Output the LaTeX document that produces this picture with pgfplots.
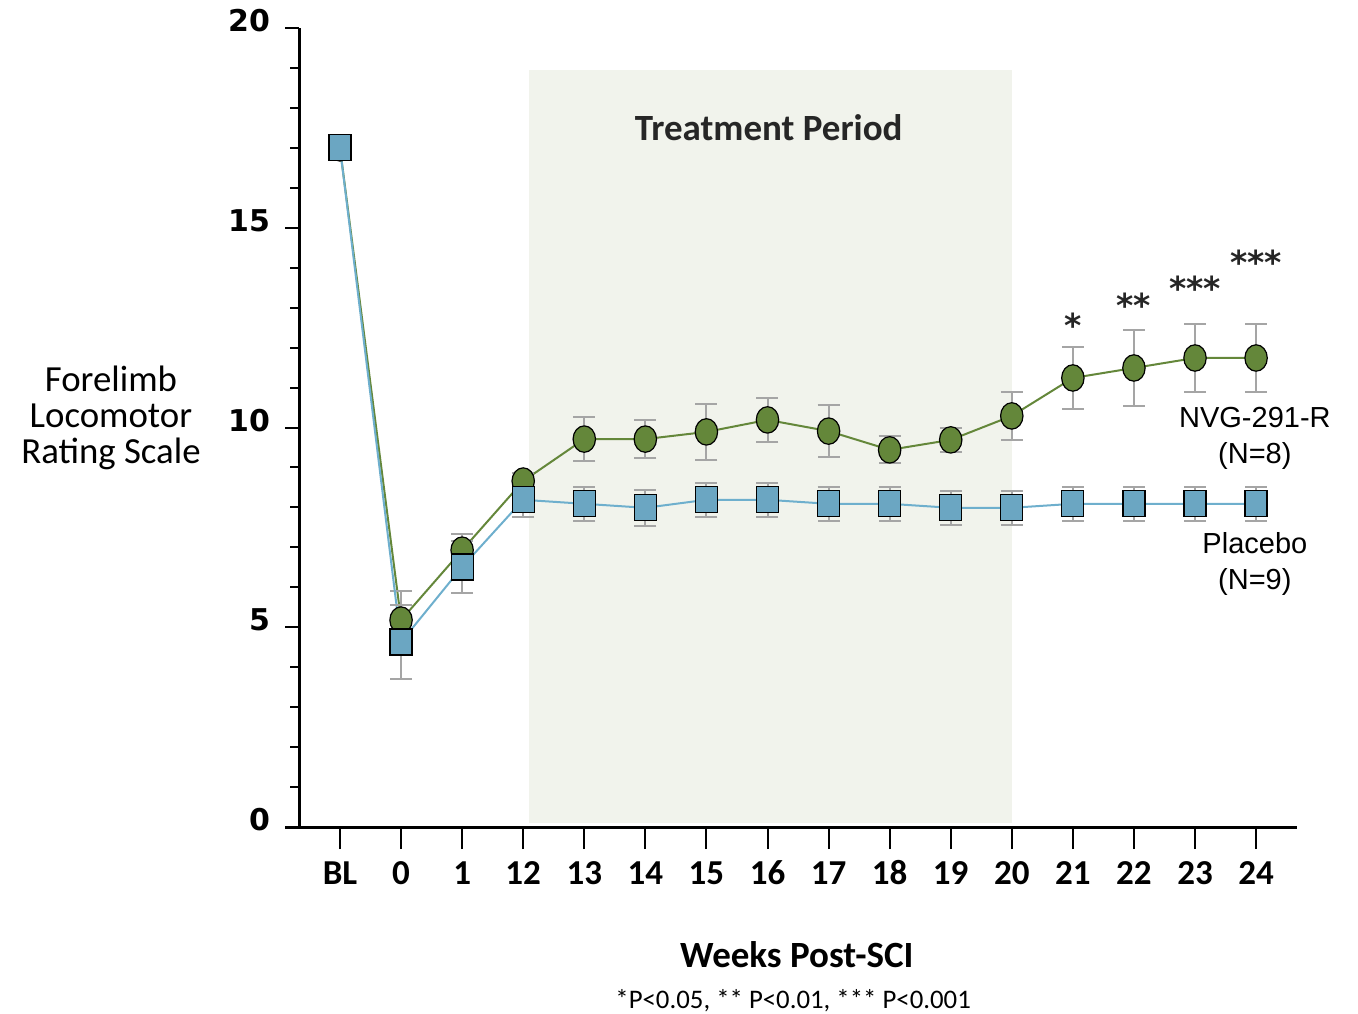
\documentclass[border=0pt]{standalone}
\usepackage{fontspec}
\setmainfont{Carlito}
\newfontfamily\arialf{Liberation Sans}
\newfontfamily\dejaf{DejaVu Sans}
\usepackage{pgfplots}
\usepackage{pgfplotstable}
\pgfplotsset{compat=1.18}

\definecolor{nvg}{RGB}{100,135,58}
\definecolor{plc}{RGB}{107,166,194}
\definecolor{plcline}{RGB}{110,175,205}
\definecolor{errc}{RGB}{165,165,165}
\definecolor{tpshade}{RGB}{241,243,236}

% x = category index (BL,0,1,12,...,24), y = mean, e = error
\pgfplotstableread{
x y e
0 17.00 0
1 5.18 0.72
2 6.93 0.40
3 8.66 0.20
4 9.71 0.55
5 9.71 0.47
6 9.89 0.70
7 10.19 0.55
8 9.91 0.66
9 9.44 0.34
10 9.69 0.30
11 10.29 0.60
12 11.24 0.78
13 11.49 0.94
14 11.74 0.86
15 11.74 0.86
}\nvgdata

\pgfplotstableread{
x y e
0 17.00 0
1 4.63 0.93
2 6.51 0.65
3 8.19 0.43
4 8.09 0.43
5 7.99 0.45
6 8.19 0.43
7 8.19 0.43
8 8.09 0.43
9 8.09 0.43
10 7.99 0.43
11 7.99 0.43
12 8.09 0.43
13 8.09 0.43
14 8.09 0.43
15 8.09 0.43
}\plcdata

\begin{document}
\begin{tikzpicture}
\path[use as bounding box] (-149.5pt,-93pt) rectangle (529.5pt,413.5pt);

\pgfplotsset{
  common/.style={
    scale only axis, width=499pt, height=399.5pt,
    xmin=-0.671, xmax=15.67, ymin=0, ymax=20,
    clip=false,
  },
}

% main axis: data, x axis
\begin{axis}[common,
  axis x line=bottom, hide y axis,
  axis line style={-, line width=1.5pt},
  xtick={0,...,15},
  xticklabels={BL,0,1,12,13,14,15,16,17,18,19,20,21,22,23,24},
  tick align=outside, major tick length=11pt,
  xtick style={line width=1pt, black},
  typeset ticklabels with strut,
  xticklabel style={font=\bfseries\fontsize{17.5}{17.5}\selectfont, yshift=-2pt},
]
\fill[tpshade] (axis cs:3.095,0.1) rectangle (axis cs:11.0,18.95);

\addplot[nvg, line width=1pt, mark=*, mark size=5.6pt,
  mark options={yscale=1.18, fill=nvg, draw=black, line width=0.6pt},
  error bars/.cd, y dir=both, y explicit,
  error bar style={errc, line width=1pt},
  error mark options={rotate=90, mark size=5.5pt, errc, line width=1pt}]
  table[x=x, y=y, y error=e] {\nvgdata};

\addplot[plcline, line width=1pt, mark=square*, mark size=5.5pt,
  mark options={yscale=1.18, fill=plc, draw=black, line width=0.6pt},
  error bars/.cd, y dir=both, y explicit,
  error bar style={errc, line width=1pt},
  error mark options={rotate=90, mark size=5.5pt, errc, line width=1pt}]
  table[x=x, y=y, y error=e] {\plcdata};

\node[font=\bfseries\fontsize{18.5}{18.5}\selectfont, text=black!85] at (axis cs:7.02,17.5) {Treatment Period};

\node[font=\dejaf\bfseries\fontsize{16.5}{16.5}\selectfont, text=black!85] at (axis cs:12,12.55) {*};
\node[font=\dejaf\bfseries\fontsize{16.5}{16.5}\selectfont, text=black!85] at (axis cs:13,13.05) {**};
\node[font=\dejaf\bfseries\fontsize{16.5}{16.5}\selectfont, text=black!85] at (axis cs:14,13.48) {***};
\node[font=\dejaf\bfseries\fontsize{16.5}{16.5}\selectfont, text=black!85] at (axis cs:15,14.13) {***};

\node[font=\arialf\fontsize{14.5}{18}\selectfont, align=center] at (axis cs:14.98,9.73) {NVG-291-R\\(N=8)};
\node[font=\arialf\fontsize{14.5}{18}\selectfont, align=center] at (axis cs:14.98,6.58) {Placebo\\(N=9)};

\node[font=\fontsize{18.4}{18}\selectfont, align=center] at (axis cs:-3.75,10.24) {Forelimb\\Locomotor\\Rating Scale};

\node[font=\bfseries\fontsize{18.5}{18.5}\selectfont] at (axis cs:7.48,-3.2) {Weeks Post-SCI};
\node[font=\fontsize{13.4}{15}\selectfont] at (axis cs:7.42,-4.36) {*P<0.05, ** P<0.01, *** P<0.001};

\draw[line width=1.5pt] (axis cs:-0.9,0) -- (axis cs:-0.671,0);
\end{axis}

% y axis only
\begin{axis}[common,
  hide x axis, axis y line=left,
  axis line style={-, line width=1.5pt},
  ytick={0,5,...,20}, minor ytick={1,...,19},
  tick align=outside, major tick length=7pt, minor tick length=4.5pt,
  every tick/.style={line width=1pt, black},
  /pgf/number format/assume math mode=true,
  yticklabel style={font=\dejaf\bfseries\fontsize{15}{15}\selectfont, xshift=-4pt, yshift=3.5pt},
]
\end{axis}
\end{tikzpicture}
\end{document}
